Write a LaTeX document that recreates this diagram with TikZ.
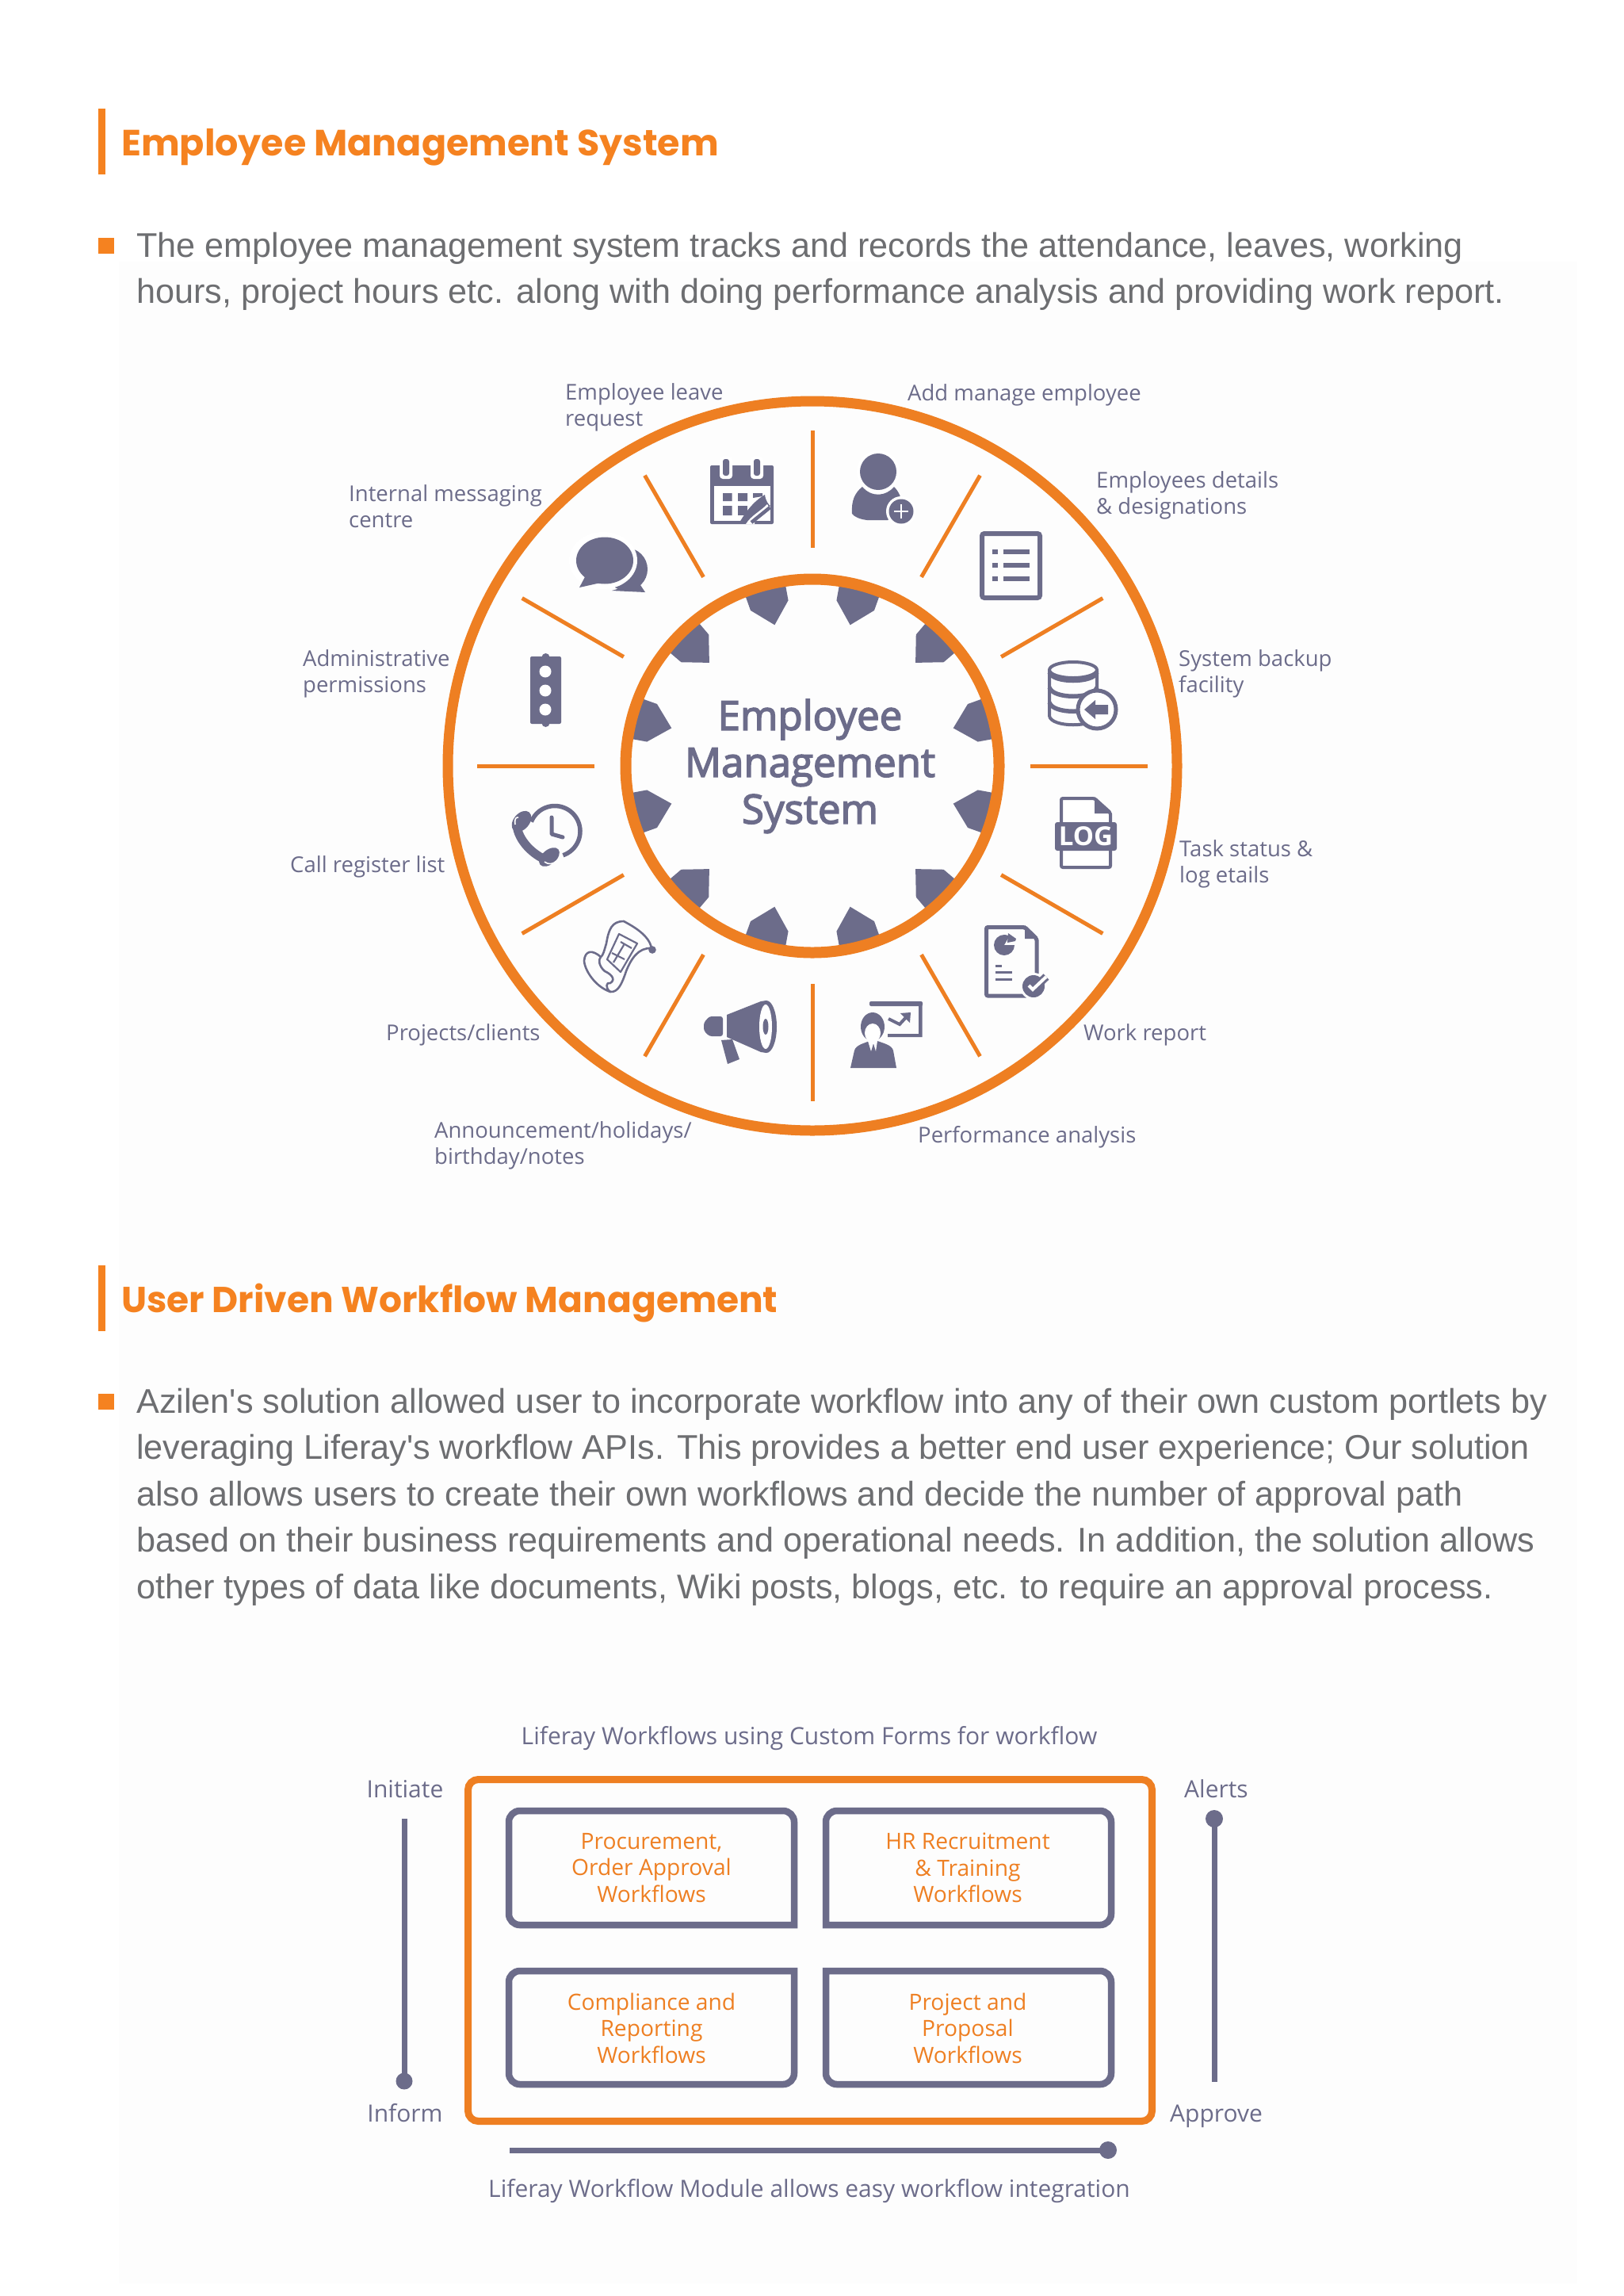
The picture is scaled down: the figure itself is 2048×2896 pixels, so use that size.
\documentclass[tikz,border=0pt]{standalone}
\usepackage{fontspec}
\setmainfont{Liberation Sans}[Ligatures=TeXOff]
\newfontfamily\labfont{Open Sans}
\newfontfamily\headfont{Poppins}
\newfontfamily\centerfont[FakeBold=3]{Open Sans}
\definecolor{ring}{HTML}{EE7F22}
\definecolor{headorange}{HTML}{F58220}
\definecolor{slate}{HTML}{6C6C8A}
\definecolor{bodygrey}{HTML}{6D6E71}
\tikzset{
  heading/.style={anchor=base west,inner sep=0pt,text=headorange,font=\headfont\bfseries\fontsize{46}{50}\selectfont},
  bodyline/.style={anchor=base west,inner sep=0pt,text=bodygrey,font=\fontsize{43.2}{50}\selectfont},
  accentbar/.style={fill=headorange},
  spoke/.style={draw=ring,line width=5pt},
  bigring/.style={draw=ring},
  gear/.style={fill=slate},
  lab/.style={anchor=west,inner sep=0pt,align=left,text=slate,font=\labfont\fontsize{27.5}{33}\selectfont},
  flow/.style={inner sep=0pt,align=center,text=slate,font=\labfont\fontsize{30}{33}\selectfont},
  flowin/.style={inner sep=0pt,align=center,text=ring,font=\labfont\fontsize{28.2}{33.5}\selectfont},
  wfbox/.style={draw=slate,line width=8.5pt},
  axisline/.style={draw=slate,line width=7pt},
  ic/.style={fill=slate},
  icl/.style={draw=slate,line width=4.5pt},
  wh/.style={fill=white}
}
\begin{document}
\begin{tikzpicture}[x=1pt,y=-1pt]
\useasboundingbox (0,0) rectangle (2048,2896);
\fill[white] (0,0) rectangle (2048,2896);
\fill[black!0.6] (150,330) rectangle (1990,2880);
% ---------- section 1
\fill[accentbar] (124,137) rectangle (133,220);
\node[heading] (h1) at (153,196) {Employee Management System};
\fill[accentbar] (124,300) rectangle (144,320);
\node[bodyline] (b1) at (172,324) {The employee management system tracks and records the attendance, leaves, working};
\node[bodyline] (b2) at (172,382.5) {hours, project hours etc. along with doing performance analysis and providing work report.};
% ---------- wheel
\coordinate (c) at (1025,966);
\foreach \a in {0,30,...,330}{
  \draw[spoke] ([shift={(\a:275pt)}]c) -- ([shift={(\a:423pt)}]c);
}
\foreach \a in {15,45,...,345}{
  \fill[gear] ([shift={(\a:184pt)}]c) -- ([shift={({\a+6.7}:211pt)}]c) -- ([shift={({\a+6.5}:234pt)}]c)
     -- ([shift={({\a-6.5}:234pt)}]c) -- ([shift={({\a-6.7}:211pt)}]c) -- cycle;
}
\draw[bigring,line width=13pt] (c) circle (460);
\draw[bigring,line width=14pt] (c) circle (235.5);
\node[inner sep=0pt,align=center,text=slate,font=\centerfont\fontsize{51}{59}\selectfont] (ct) at (1022,966.5) {Employee\\Management\\System};
% labels
\node[lab] (l1) at (713,514) {Employee leave\\request};
\node[lab] (l2) at (1145,498) {Add manage employee};
\node[lab] (l3) at (1383,625) {Employees details\\\& designations};
\node[lab] (l4) at (1487,850) {System backup\\facility};
\node[lab] (l5) at (1488,1090) {Task status \&\\log etails};
\node[lab] (l6) at (1367,1305) {Work report};
\node[lab] (l7) at (1158,1434) {Performance analysis};
\node[lab] (l8) at (548,1445) {Announcement/holidays/\\birthday/notes};
\node[lab] (l9) at (487,1305) {Projects/clients};
\node[lab] (l10) at (366,1093) {Call register list};
\node[lab] (l11) at (382,850) {Administrative\\permissions};
\node[lab] (l12) at (440,639) {Internal messaging\\centre};
% icon: calendar
\fill[ic,rounded corners=2pt] (896,587) rectangle (976,661);
\fill[wh] (900.5,613) rectangle (971.5,656.5);
\foreach \x in {916,955}{
  \fill[white,rounded corners=4pt] (\x-8,576) rectangle (\x+8,604);
  \fill[ic,rounded corners=3pt] (\x-4,579) rectangle (\x+4,600);
}
\fill[ic] (912,622) rectangle (923.5,632) (931,622) rectangle (943,632) (912,638) rectangle (923.5,650);
\fill[ic] (931,638) rectangle (943,650);
\fill[ic] (950,622) -- (962,622) -- (962,626) -- (950,628) -- cycle;
\fill[ic] (933,659) .. controls (943,642) and (953,631) .. (965,624) .. controls (966,632) and (970,637) .. (972,638) .. controls (960,648) and (950,652) .. (946,659) -- cycle;
\fill[wh] (941,661) .. controls (948,650) and (958,646) .. (968,636) -- (971,641) -- (952,656) -- (952,661) -- cycle;
\draw[icl] (948,659) -- (971.5,640);
% icon: person plus
\fill[ic] (1075,648) .. controls (1074,632) and (1078,622) .. (1088,614) .. controls (1100,628) and (1118,626) .. (1128,614) .. controls (1134,620) and (1138,628) .. (1138,640) -- (1120,656) -- (1094,656) .. controls (1085,655) and (1078,652) .. (1075,648) -- cycle;
\fill[white] (1108,595) circle (27);
\fill[ic] (1108,595) ellipse [x radius=23,y radius=23];
\fill[white] (1137,645) circle (19);
\fill[ic] (1137,645) circle (15.5);
\draw[white,line width=2.6pt] (1137,636) -- (1137,654) (1128,645) -- (1146,645);
% icon: list
\draw[icl,line width=6pt,rounded corners=3pt] (1239,673) rectangle (1312,754);
\foreach \y in {696,713,730}{
  \fill[ic] (1252,\y-3) rectangle (1259,\y+3);
  \fill[ic] (1266,\y-3) rectangle (1299,\y+3);
}
% icon: database
\draw[icl,line width=4pt] (1324,846) -- (1324,903) .. controls (1326,918) and (1382,918) .. (1384,903) -- (1384,846);
\draw[icl,line width=4pt] (1354,845) ellipse [x radius=30,y radius=10];
\draw[icl,line width=5.5pt] (1324,848) .. controls (1328,862) and (1380,862) .. (1384,848);
\draw[icl,line width=5.5pt] (1324,867) .. controls (1328,882) and (1380,882) .. (1384,867);
\draw[icl,line width=5.5pt] (1324,886) .. controls (1328,901) and (1380,901) .. (1384,886);
\draw[icl,line width=5pt,fill=white] (1384,895) circle (24);
\fill[ic] (1368,895) -- (1382,883) -- (1382,889) -- (1398,889) -- (1398,901) -- (1382,901) -- (1382,907) -- cycle;
% icon: LOG
\draw[icl,line width=4pt,fill=white,rounded corners=2pt] (1339,1007) -- (1381,1007) -- (1401,1025) -- (1401,1094) -- (1339,1094) -- cycle;
\fill[ic] (1381,1005) -- (1403,1026) -- (1381,1026) -- cycle;
\fill[ic,rounded corners=3pt] (1331,1037) rectangle (1409,1073);
\node[inner sep=0pt,text=white,font=\labfont\bfseries\fontsize{33}{33}\selectfont] (logt) at (1370,1055) {LOG};
% icon: report
\draw[icl,line width=5pt,rounded corners=2pt] (1295,1256) -- (1244.5,1256) -- (1244.5,1169.5) -- (1293,1169.5) -- (1308,1184) -- (1308,1232);
\fill[ic] (1293,1167) -- (1310,1184) -- (1293,1184) -- cycle;
\fill[ic] (1267,1192) -- (1280,1192) arc[start angle=0,end angle=-300,radius=13pt] -- cycle;
\fill[ic] (1272,1177) -- (1282,1184) -- (1281,1187) -- (1271,1189) -- cycle;
\draw[icl,line width=3pt] (1256,1218) -- (1264,1218) (1256,1226) -- (1277,1226) (1256,1235) -- (1277,1235);
\fill[white] (1304,1244) circle (17);
\fill[ic] (1304,1244) circle (14);
\draw[slate,line width=10pt] (1298,1243) -- (1303,1248) -- (1320,1232);
\draw[white,line width=4pt] (1298,1243) -- (1303,1248) -- (1320,1232);
% icon: presenter
\fill[ic,rounded corners=2pt] (1097,1263) rectangle (1164,1269);
\fill[ic] (1159,1266) rectangle (1163.5,1308) (1120,1304) rectangle (1163.5,1308);
\draw[slate,line width=4pt] (1121,1285) -- (1135,1292) -- (1147,1279);
\fill[ic] (1149,1277) -- (1136,1278) -- (1148,1290) -- cycle;
\fill[ic] (1073,1347) -- (1078,1325) .. controls (1080,1318) and (1090,1316) .. (1097,1313) -- (1107,1313) .. controls (1115,1316) and (1125,1318) .. (1127,1325) -- (1131,1347) -- cycle;
\fill[ic] (1101,1295) ellipse [x radius=15,y radius=18];
\fill[white] (1101,1303) ellipse [x radius=10,y radius=12];
\fill[white] (1095,1313) -- (1107,1313) -- (1105,1326) -- (1102,1316) -- (1099,1326) -- cycle;
% icon: megaphone
\fill[ic] (917,1280) -- (960,1263) -- (967,1262) -- (967,1328) -- (960,1327) -- (917,1308) -- cycle;
\fill[ic] (967,1295) ellipse [x radius=13,y radius=33];
\fill[white] (966,1295) ellipse [x radius=8,y radius=28];
\fill[ic] (966,1295) ellipse [x radius=3.5,y radius=10];
\fill[ic,rounded corners=3pt] (912,1282) -- (895,1282) -- (888,1290) -- (888,1300) -- (895,1307) -- (912,1307) -- cycle;
\fill[ic] (910,1312) -- (924,1311) -- (933,1336) -- (918,1342) -- cycle;
% icon: scroll
\begin{scope}[draw=slate,line width=2.6pt,line join=round]
\draw (822,1195) .. controls (818,1180) and (802,1170) .. (787,1162) .. controls (772,1162) and (768,1172) .. (765,1190) .. controls (762,1200) and (761,1205) .. (758,1207);
\draw (758,1207) .. controls (748,1198) and (738,1198) .. (737,1212) .. controls (738,1225) and (752,1245) .. (770,1251) .. controls (780,1252) and (785,1240) .. (790,1225) .. controls (796,1210) and (805,1195) .. (822,1196);
\draw (770,1251) .. controls (763,1246) and (765,1238) .. (770,1240) .. controls (778,1235) and (770,1228) .. (763,1225) .. controls (755,1218) and (755,1210) .. (758,1207);
\draw[line width=2.2pt] (781,1178) -- (804,1190) -- (783,1226) -- (766,1210) -- cycle;
\draw[line width=2.2pt] (783,1188) -- (797,1196) (787,1192) -- (774,1214) (772,1202) -- (788,1210);
\end{scope}
\fill[ic] (823,1198) circle (4.8);
% icon: phone clock
\coordinate (ck) at (700,1048.5);
\draw[slate,line width=5.5pt] ([shift={(158:32pt)}]ck) arc[start angle=158,end angle=-71,radius=32pt];
\draw[slate,line width=5pt,line cap=round,line join=round] (696,1031) -- (696,1052) -- (710,1056);
\draw[slate,line width=11pt] (652,1041) .. controls (654,1060) and (672,1078) .. (690,1085);
\fill[ic,rotate around={-40:(658,1036)}] (658,1036) ellipse [x radius=10,y radius=15];
\fill[ic,rotate around={-50:(693,1081)}] (693,1081) ellipse [x radius=9,y radius=15];
\draw[white,line width=1.6pt] (650,1040) .. controls (649,1032) and (651,1031) .. (654,1031);
\draw[white,line width=1.6pt] (687,1087) .. controls (692,1091) and (698,1090) .. (702,1086);
% icon: traffic light
\fill[ic,rounded corners=2pt] (669,828) rectangle (708,913);
\fill[ic] (688.5,829) circle (5) (688.5,912) circle (5);
\foreach \y in {847,871,895}{ \fill[white] (688,\y) circle (7.5); }
% icon: chat
\fill[ic] (790,718) circle (27);
\fill[ic] (806,735) -- (814,747) -- (772,745) -- cycle;
\fill[white] (761,707) ellipse [x radius=43,y radius=36];
\fill[ic] (763,707) ellipse [x radius=36,y radius=29.5];
\fill[ic] (740,724) -- (731,741) -- (758,735) -- cycle;
% ---------- section 2
\fill[accentbar] (124,1596) rectangle (133,1679);
\node[heading,font=\headfont\bfseries\fontsize{45.5}{50}\selectfont] (h2) at (153,1655) {User Driven Workflow Management};
\fill[accentbar] (124,1758) rectangle (144,1778);
\node[bodyline] (c1) at (172,1782) {Azilen's solution allowed user to incorporate workflow into any of their own custom portlets by};
\node[bodyline] (c2) at (172,1840.5) {leveraging Liferay's workflow APIs. This provides a better end user experience; Our solution};
\node[bodyline] (c3) at (172,1899) {also allows users to create their own workflows and decide the number of approval path};
\node[bodyline] (c4) at (172,1957.5) {based on their business requirements and operational needs. In addition, the solution allows};
\node[bodyline] (c5) at (172,2016) {other types of data like documents, Wiki posts, blogs, etc. to require an approval process.};
% ---------- workflow
\node[flow] (ft) at (1021,2193) {Liferay Workflows using Custom Forms for workflow};
\node[flow] (fi) at (511,2256.5) {Initiate};
\node[flow] (fa) at (1534.5,2256.5) {Alerts};
\node[flow] (fn) at (511,2665) {Inform};
\node[flow] (fp) at (1534.5,2669) {Approve};
\node[flow] (fb) at (1021,2764) {Liferay Workflow Module allows easy workflow integration};
\draw[ring,line width=9pt,rounded corners=13pt] (590.5,2244.5) rectangle (1453.5,2675.5);
% box 1: sharp bottom right
\draw[wfbox] (1002,2428) [rounded corners=14pt] -- (642,2428) -- (642,2284) -- (1002,2284) [sharp corners] -- cycle;
% box 2: sharp bottom left
\draw[wfbox] (1042,2428) [rounded corners=14pt] -- (1042,2284) -- (1402,2284) -- (1402,2428) [sharp corners] -- cycle;
% box 3: sharp top right
\draw[wfbox] (1002,2486) [rounded corners=14pt] -- (1002,2629) -- (642,2629) -- (642,2486) [sharp corners] -- cycle;
% box 4: sharp top left
\draw[wfbox] (1042,2486) [rounded corners=14pt] -- (1402,2486) -- (1402,2629) -- (1042,2629) [sharp corners] -- cycle;
\node[flowin] (w1) at (822,2356) {Procurement,\\Order Approval\\Workflows};
\node[flowin] (w2) at (1221,2356) {HR Recruitment\\\& Training\\Workflows};
\node[flowin] (w3) at (822,2558) {Compliance and\\Reporting\\Workflows};
\node[flowin] (w4) at (1221,2558) {Project and\\Proposal\\Workflows};
\coordinate (al1) at (510,2294); \coordinate (al2) at (510,2625);
\coordinate (ar1) at (1532,2294); \coordinate (ar2) at (1532,2625.5);
\coordinate (ab1) at (643,2712); \coordinate (ab2) at (1398,2712);
\draw[axisline] (al1) -- (al2);
\fill[slate] (al2) circle (10.5);
\draw[axisline] (ar1) -- (ar2);
\fill[slate] (ar1) circle (11);
\draw[axisline] (ab1) -- (ab2);
\fill[slate] (ab2) circle (11);
\end{tikzpicture}
\end{document}
